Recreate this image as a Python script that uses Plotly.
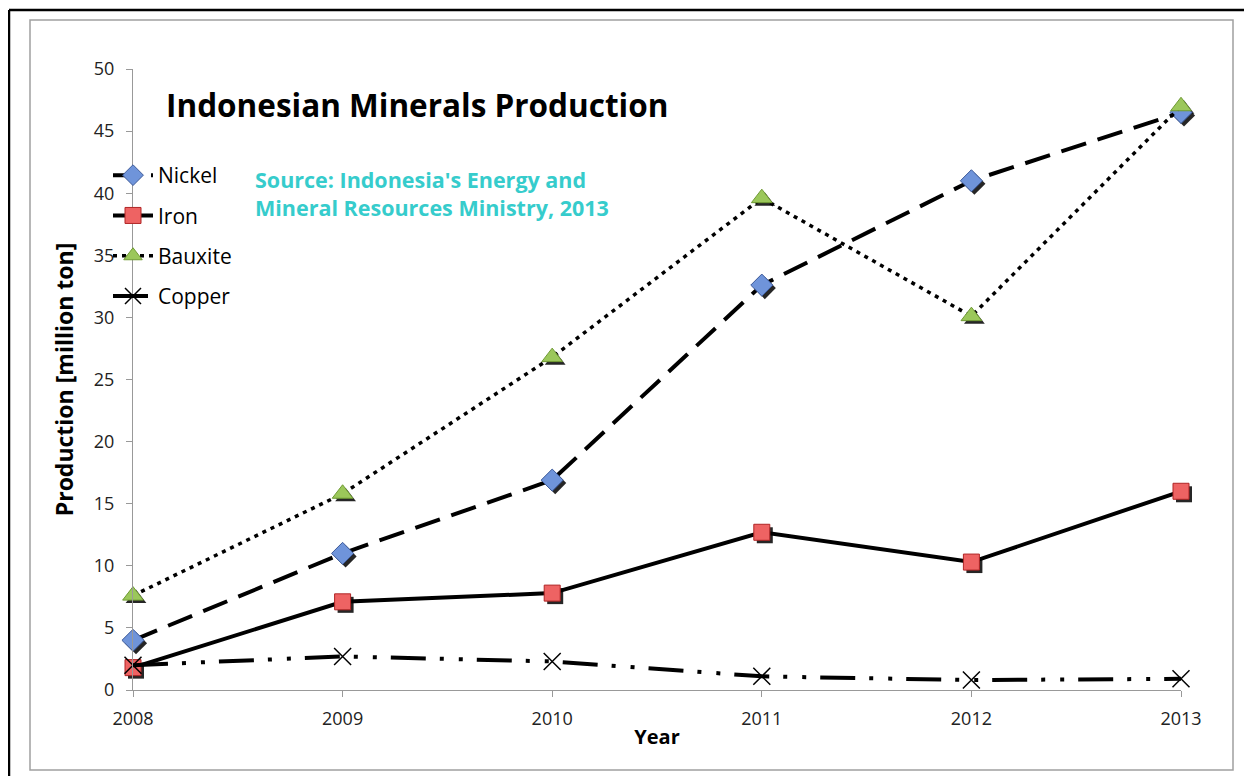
import plotly.graph_objects as go

years = [2008, 2009, 2010, 2011, 2012, 2013]
nickel = [4.0, 11.0, 16.9, 32.6, 41.0, 46.5]
iron = [1.8, 7.1, 7.8, 12.7, 10.3, 16.0]
bauxite = [7.6, 15.8, 26.8, 39.6, 30.1, 47.0]
copper = [2.0, 2.7, 2.3, 1.1, 0.8, 0.9]
y_ticks = [0, 5, 10, 15, 20, 25, 30, 35, 40, 45, 50]

FONT = "Open Sans"
OFF = 8   # page body margin
SH = 3    # marker shadow offset in px
L, R, T, B = 133 - OFF, 1181 - OFF, 69 - OFF, 690 - OFF
R2, B2 = R + SH, B + SH
W, H = 1252, 776


def px(xp):
    return (xp - OFF - L) / (R2 - L)


def py(yp):
    return (B2 - (yp - OFF)) / (B2 - T)


series = [
    ("Nickel", nickel, dict(color="black", width=4, dash="26px,12px"),
     dict(symbol="diamond", size=17, color="#6f94da", line=dict(color="#3d5a99", width=1))),
    ("Iron", iron, dict(color="black", width=4),
     dict(symbol="square", size=16, color="#ee6363", line=dict(color="#b02525", width=1))),
    ("Bauxite", bauxite, dict(color="black", width=3.5, dash="4px,5px"),
     dict(symbol="triangle-up", size=18, color="#9bc75a", line=dict(color="#6f9a33", width=1))),
    ("Copper", copper, dict(color="black", width=4, dash="35px,14px,4px,15px,4px,14px"),
     dict(symbol="x-thin", size=17, color="black", line=dict(color="black", width=1.5))),
]

fig = go.Figure()
# marker shadows on an offset (hidden) pair of axes, drawn underneath
for name, vals, ln, mk in series:
    if mk["symbol"] == "x-thin":
        continue
    fig.add_trace(go.Scatter(
        x=years, y=vals, mode="markers", xaxis="x", yaxis="y", showlegend=False,
        hoverinfo="skip", cliponaxis=False,
        marker=dict(symbol=mk["symbol"], size=mk["size"], color="rgba(0,0,0,0.85)",
                    line=dict(width=0))))
# main series on the visible axes, drawn on top
for i, (name, vals, ln, mk) in enumerate(series):
    fig.add_trace(go.Scatter(
        x=years, y=vals, name=name, mode="lines+markers", legendgroup=str(i),
        xaxis="x2", yaxis="y2", line=ln, marker=mk, cliponaxis=False))

fig.update_layout(
    width=W, height=H,
    margin=dict(l=L, r=W - R2, t=T, b=H - B2),
    paper_bgcolor="white", plot_bgcolor="rgba(0,0,0,0)",
    font=dict(family=FONT, color="black", size=17),
    showlegend=True,
    legend=dict(x=px(108), y=py(155), xanchor="left", yanchor="top",
                bgcolor="rgba(0,0,0,0)", font=dict(size=21, family=FONT),
                tracegroupgap=10, itemwidth=40),
    xaxis=dict(range=[2008, 2013], domain=[SH / (R2 - L), 1], anchor="y",
               visible=False),
    yaxis=dict(range=[0, 50], domain=[0, 1 - SH / (B2 - T)], anchor="x",
               visible=False),
    xaxis2=dict(range=[2008, 2013], domain=[0, (R - L) / (R2 - L)], anchor="y2",
                tickvals=years, ticktext=[str(y) for y in years],
                showgrid=False, zeroline=False, showline=True, linecolor="#999999",
                linewidth=1, ticks="outside", ticklen=6, tickcolor="#999999",
                ticklabelstandoff=6,
                tickfont=dict(size=18, family=FONT, color="#222222"),
                title=dict(text="<b>Year</b>", font=dict(size=20, family=FONT), standoff=1)),
    yaxis2=dict(range=[0, 50], domain=[SH / (B2 - T), 1], anchor="x2", tickvals=y_ticks,
                showgrid=False, zeroline=False,
                showline=True, linecolor="#999999", linewidth=1, ticks="outside",
                ticklen=6, tickcolor="#999999", ticklabelstandoff=8,
                tickfont=dict(size=18, family=FONT, color="#222222"),
                title=dict(text="<b>Production [million ton]</b>",
                           font=dict(size=23, family=FONT), standoff=13)),
    annotations=[
        dict(text="<b>Indonesian Minerals Production</b>", xref="paper", yref="paper",
             x=px(164), y=py(104), xanchor="left", yanchor="middle", showarrow=False,
             font=dict(size=31.5, family=FONT, color="black")),
        dict(text="<b>Source: Indonesia's Energy and<br>Mineral Resources Ministry, 2013</b>",
             xref="paper", yref="paper", x=px(253), y=py(194), xanchor="left",
             yanchor="middle", align="left", showarrow=False,
             font=dict(size=21.5, family=FONT, color="#36cccc")),
    ],
    shapes=[
        dict(type="rect", xref="paper", yref="paper", x0=px(30), x1=px(1233),
             y0=py(770), y1=py(20), line=dict(color="#a0a0a0", width=1.5), layer="below"),
        dict(type="line", xref="paper", yref="paper", x0=px(9), x1=px(1260),
             y0=py(10), y1=py(10), line=dict(color="black", width=2.5)),
        dict(type="line", xref="paper", yref="paper", x0=px(9), x1=px(9),
             y0=py(10), y1=py(790), line=dict(color="black", width=2.5)),
    ],
)

fig.write_html("out.html")
